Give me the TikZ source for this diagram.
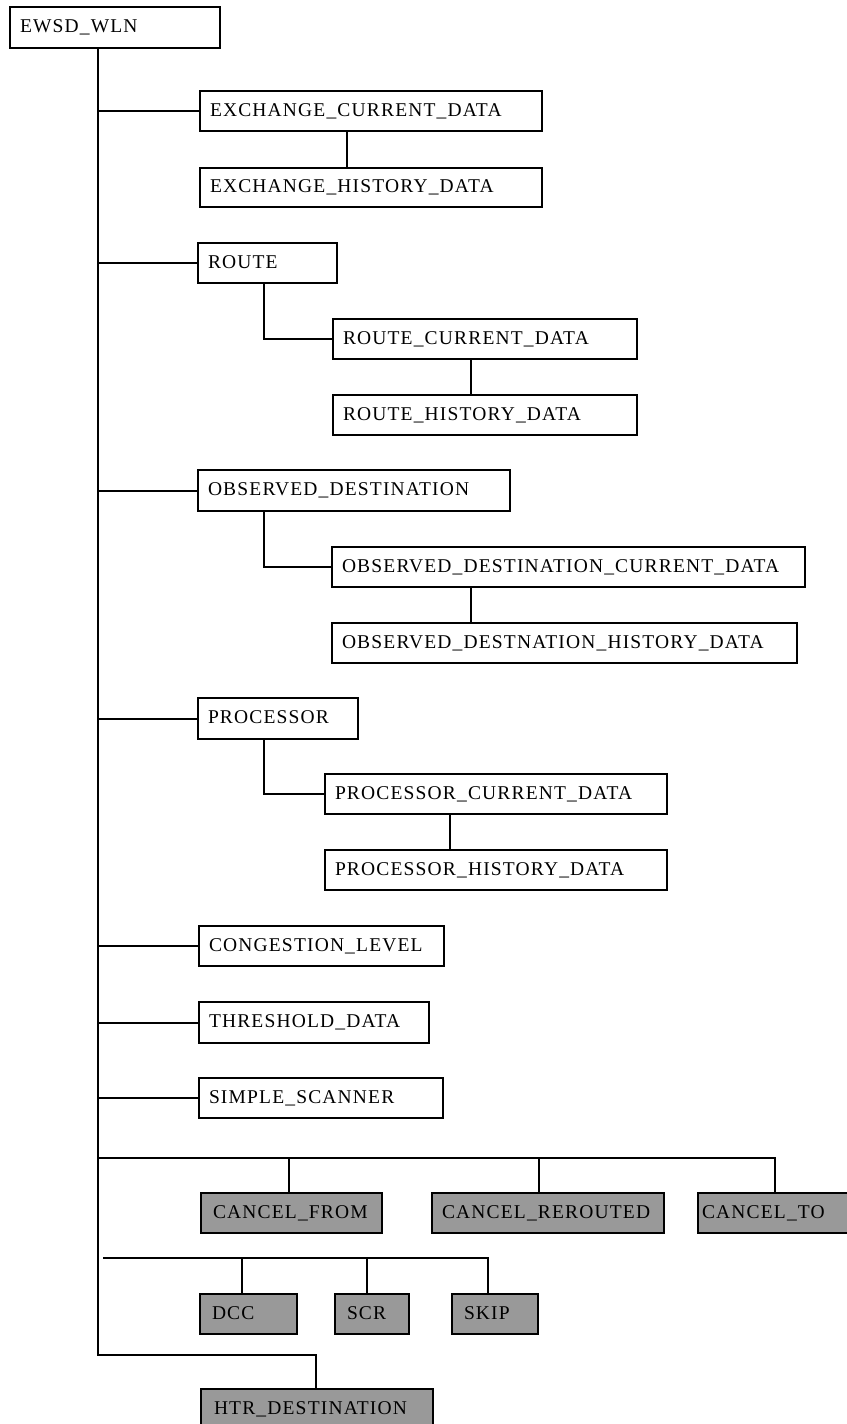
\documentclass[tikz,border=0pt]{standalone}
\usepackage{fontspec}
\setmainfont{Liberation Serif}[LetterSpace=6]
\usepackage{tikz}
\usetikzlibrary{positioning}
\definecolor{boxgray}{RGB}{153,153,153}
\tikzset{font=\fontsize{19.5}{22}\selectfont}
\tikzset{tbl/.style={draw, line width=2pt, anchor=north west, align=left,
    inner xsep=10pt, inner ysep=0pt, text height=13pt, text depth=3pt,
    minimum height=40pt},
  subtbl/.style={tbl, fill=boxgray},
  link/.style={line width=2pt}}

\begin{document}
\begin{tikzpicture}[x=1pt,y=-1pt]
\useasboundingbox (0,0) rectangle (846,1424);

\node[tbl, text width=190pt, minimum height=41pt] (root) at (9,6) {EWSD\_WLN};

\node[tbl, text width=322pt] (ecd) at (199,90) {EXCHANGE\_CURRENT\_DATA};
\node[tbl, text width=322pt, minimum height=39pt] (ehd) at (199,167) {EXCHANGE\_HISTORY\_DATA};

\node[tbl, text width=119pt] (route) at (197,242) {ROUTE};
\node[tbl, text width=284pt] (rcd) at (332,318) {ROUTE\_CURRENT\_DATA};
\node[tbl, text width=284pt] (rhd) at (332,394) {ROUTE\_HISTORY\_DATA};

\node[tbl, text width=292pt, minimum height=41pt] (od) at (197,469) {OBSERVED\_DESTINATION};
\node[tbl, text width=453pt] (odcd) at (331,546) {OBSERVED\_DESTINATION\_CURRENT\_DATA};
\node[tbl, text width=445pt] (odhd) at (331,622) {OBSERVED\_DESTNATION\_HISTORY\_DATA};

\node[tbl, text width=140pt, minimum height=41pt] (proc) at (197,697) {PROCESSOR};
\node[tbl, text width=322pt] (pcd) at (324,773) {PROCESSOR\_CURRENT\_DATA};
\node[tbl, text width=322pt] (phd) at (324,849) {PROCESSOR\_HISTORY\_DATA};

\node[tbl, text width=225pt] (cl) at (198,925) {CONGESTION\_LEVEL};
\node[tbl, text width=210pt, minimum height=41pt] (td) at (198,1001) {THRESHOLD\_DATA};
\node[tbl, text width=224pt] (ss) at (198,1077) {SIMPLE\_SCANNER};

\node[subtbl, text width=157pt, inner xsep=12pt] (cf) at (200,1192) {CANCEL\_FROM};
\node[subtbl, text width=212pt] (cr) at (431,1192) {CANCEL\_REROUTED};
\node[subtbl, text width=152pt, inner xsep=4pt] (ct) at (697,1192) {CANCEL\_TO};

\node[subtbl, text width=73pt, inner xsep=12pt] (dcc) at (199,1293) {DCC};
\node[subtbl, text width=50pt, inner xsep=12pt] (scr) at (334,1293) {SCR};
\node[subtbl, text width=62pt, inner xsep=12pt] (skip) at (451,1293) {SKIP};

\node[subtbl, text width=206pt, inner xsep=13pt] (htr) at (200,1388) {HTR\_DESTINATION};

% trunk
\coordinate (trunk) at ([xshift=89pt]root.south west);
\coordinate (corner) at (316,1355);
\draw[link] (trunk) |- (corner) -- (corner |- htr.north);

\foreach \n in {ecd,route,od,proc,cl,td,ss}{
  \draw[link] (trunk |- \n.west) -- (\n.west);
};

\draw[link] ([xshift=67pt]route.south west) |- (rcd.west);
\draw[link] ([xshift=67pt]od.south west) |- (odcd.west);
\draw[link] ([xshift=67pt]proc.south west) |- (pcd.west);

\draw[link] ([xshift=148pt]ecd.south west) -- ([xshift=148pt]ehd.north west);
\draw[link] ([xshift=139pt]rcd.south west) -- ([xshift=139pt]rhd.north west);
\draw[link] ([xshift=140pt]odcd.south west) -- ([xshift=140pt]odhd.north west);
\draw[link] ([xshift=126pt]pcd.south west) -- ([xshift=126pt]phd.north west);

% grey groups
\coordinate (busa) at (98,1158);
\draw[link] (busa) -| ([xshift=78pt]ct.north west);
\foreach \n/\x in {cf/289,cr/539}{
  \coordinate (drop) at (\x,1158);
  \draw[link] (drop) -- (drop |- \n.north);
};

\coordinate (busb) at (103,1258);
\draw[link] (busb) -| ([xshift=37pt]skip.north west);
\foreach \n/\x in {dcc/242,scr/367}{
  \coordinate (drop) at (\x,1258);
  \draw[link] (drop) -- (drop |- \n.north);
};
\end{tikzpicture}
\end{document}
